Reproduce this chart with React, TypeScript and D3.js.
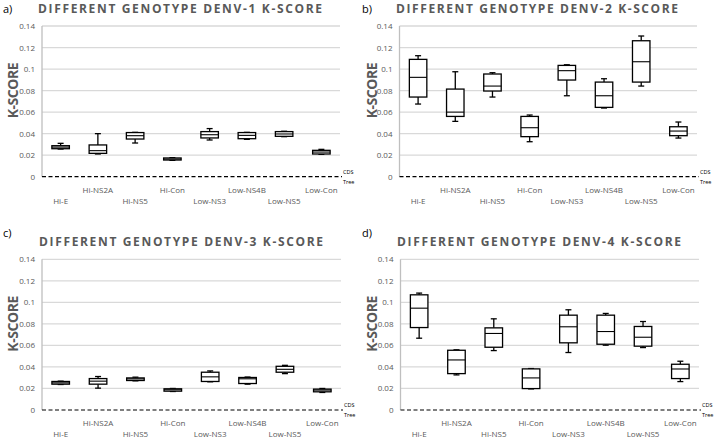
import React, { useEffect, useRef } from "react";
import * as d3 from "d3";

const categories = ["Hi-E", "Hi-NS2A", "Hi-NS5", "Hi-Con", "Low-NS3", "Low-NS4B", "Low-NS5", "Low-Con"];
const yTicks = [0, 0.02, 0.04, 0.06, 0.08, 0.1, 0.12, 0.14];
const yTickLabels = ["0", "0.02", "0.04", "0.06", "0.08", "0.1", "0.12", "0.14"];

// [min, q1, median, q3, max] per category
const denv1 = [
    [0.0257, 0.026, 0.0275, 0.0288, 0.031],
    [0.0211, 0.0217, 0.0242, 0.0295, 0.040],
    [0.0313, 0.035, 0.0381, 0.041, 0.0412],
    [0.0152, 0.0155, 0.0164, 0.0174, 0.0177],
    [0.0341, 0.036, 0.039, 0.0419, 0.0447],
    [0.0347, 0.0353, 0.0384, 0.041, 0.0412],
    [0.0372, 0.0375, 0.0397, 0.0419, 0.0422],
    [0.0208, 0.0211, 0.0229, 0.0245, 0.0254],
];
const denv2 = [
    [0.0675, 0.074, 0.0923, 0.109, 0.1124],
    [0.0514, 0.056, 0.060, 0.0814, 0.0975],
    [0.074, 0.0796, 0.0842, 0.0954, 0.0966],
    [0.0325, 0.0372, 0.0455, 0.056, 0.0573],
    [0.0752, 0.0898, 0.0985, 0.1034, 0.104],
    [0.0638, 0.0644, 0.0752, 0.0879, 0.091],
    [0.0842, 0.0879, 0.1068, 0.1263, 0.1307],
    [0.0359, 0.0381, 0.0424, 0.0464, 0.0508],
];
const denv3 = [
    [0.0237, 0.024, 0.0252, 0.0265, 0.0268],
    [0.0203, 0.024, 0.0268, 0.0292, 0.0311],
    [0.0271, 0.0274, 0.0289, 0.0298, 0.0305],
    [0.0172, 0.0175, 0.0188, 0.0197, 0.020],
    [0.0262, 0.0265, 0.0308, 0.0351, 0.0363],
    [0.024, 0.0246, 0.029, 0.0302, 0.0306],
    [0.0338, 0.0351, 0.0378, 0.0406, 0.0415],
    [0.0163, 0.0169, 0.0185, 0.0194, 0.020],
];
const denv4 = [
    [0.0667, 0.0766, 0.0946, 0.107, 0.1086],
    [0.0326, 0.0338, 0.0465, 0.0555, 0.0559],
    [0.0552, 0.0583, 0.0711, 0.0763, 0.0847],
    [0.0196, 0.0199, 0.0298, 0.0382, 0.0385],
    [0.0534, 0.0624, 0.0773, 0.0881, 0.0931],
    [0.0602, 0.0611, 0.0729, 0.0881, 0.0897],
    [0.058, 0.0593, 0.0676, 0.0776, 0.0822],
    [0.0264, 0.0292, 0.0381, 0.0425, 0.0453],
];

const panels = [
    { tag: "a)", name: "DENV-1", data: denv1, ox: 0, oy: 0, left: 42, right: 340, top: 26, bottom: 176.7, tx: 38, tw: 284, tb: 12.7, lb: 12.5 },
    { tag: "b)", name: "DENV-2", data: denv2, ox: 359, oy: 0, left: 40.5, right: 338, top: 26, bottom: 176.7, tx: 37, tw: 282, tb: 12.7, lb: 12.5 },
    { tag: "c)", name: "DENV-3", data: denv3, ox: 0, oy: 220, left: 42, right: 341, top: 39.3, bottom: 190, tx: 39, tw: 284, tb: 26, lb: 16.5 },
    { tag: "d)", name: "DENV-4", data: denv4, ox: 359, oy: 220, left: 41.5, right: 340, top: 39.3, bottom: 190, tx: 38, tw: 284, tb: 26, lb: 16.5 },
];

const grey = "#595959";
const font = "'Open Sans', sans-serif";

export default function App() {
    const svgRef = useRef<SVGSVGElement>(null);

    useEffect(() => {
        const svg = d3.select(svgRef.current);
        svg.selectAll("*").remove();

        panels.forEach(p => {
            const g = svg.append("g").attr("transform", `translate(${p.ox},${p.oy})`);
            const x = d3.scaleBand().domain(categories).range([p.left, p.right]).paddingInner(0.53).paddingOuter(0.265);
            const y = d3.scaleLinear().domain([0, 0.14]).range([p.bottom, p.top]);

            // panel tag and title
            g.append("text").attr("x", 3).attr("y", p.lb).attr("font-family", font)
                .attr("font-size", 11).attr("fill", "#000").text(p.tag);
            g.append("text").attr("x", p.tx).attr("y", p.tb).attr("font-family", font)
                .attr("font-size", 12).attr("font-weight", "bold").attr("fill", grey)
                .attr("textLength", p.tw).attr("lengthAdjust", "spacing")
                .text(`DIFFERENT GENOTYPE ${p.name} K-SCORE`);

            // y axis label
            const midY = (p.top + p.bottom) / 2 - 11;
            g.append("text").attr("transform", `translate(${17.5},${midY}) rotate(-90)`)
                .attr("text-anchor", "middle").attr("font-family", font).attr("font-size", 14)
                .attr("font-weight", "bold").attr("fill", grey)
                .attr("textLength", 56).attr("lengthAdjust", "spacing").text("K-SCORE");

            // grid
            g.selectAll(".grid").data(yTicks.slice(1)).enter().append("line")
                .attr("x1", p.left).attr("x2", p.right)
                .attr("y1", d => y(d)).attr("y2", d => y(d))
                .attr("stroke", "#d9d9d9").attr("stroke-width", 1.3);
            g.append("line").attr("x1", p.left).attr("x2", p.left).attr("y1", p.top).attr("y2", p.bottom)
                .attr("stroke", "#bfbfbf").attr("stroke-width", 1.3);

            // tick labels
            g.selectAll(".tick").data(yTicks).enter().append("text")
                .attr("x", p.left - 7).attr("y", d => y(d) + 3)
                .attr("text-anchor", "end").attr("font-family", font).attr("font-size", 8)
                .attr("fill", grey).text((d, i) => yTickLabels[i]);

            // dashed zero line
            g.append("line").attr("x1", p.left).attr("x2", p.right + 2)
                .attr("y1", y(0)).attr("y2", y(0))
                .attr("stroke", "#000").attr("stroke-width", 1.2).attr("stroke-dasharray", "4,2.5");
            g.append("text").attr("x", p.right + 3).attr("y", y(0) - 3).attr("font-family", font)
                .attr("font-size", 5.5).attr("fill", "#000").text("CDS");
            g.append("text").attr("x", p.right + 3).attr("y", y(0) + 7).attr("font-family", font)
                .attr("font-size", 5.5).attr("fill", "#000").text("Tree");

            // category labels, staggered
            g.selectAll(".cat").data(categories).enter().append("text")
                .attr("x", d => (x(d) as number) + x.bandwidth() / 2)
                .attr("y", (d, i) => y(0) + (i % 2 === 0 ? 27 : 16))
                .attr("text-anchor", "middle").attr("font-family", font).attr("font-size", 8)
                .attr("fill", grey).text(d => d);

            // boxes
            const bw = x.bandwidth();
            const boxes = g.selectAll(".box").data(p.data).enter().append("g")
                .attr("transform", (d, i) => `translate(${x(categories[i])},0)`);
            const stroke = { color: "#000", w: 1.3 };
            boxes.append("line").attr("x1", bw / 2).attr("x2", bw / 2)
                .attr("y1", d => y(d[0])).attr("y2", d => y(d[1]))
                .attr("stroke", stroke.color).attr("stroke-width", stroke.w);
            boxes.append("line").attr("x1", bw / 2).attr("x2", bw / 2)
                .attr("y1", d => y(d[3])).attr("y2", d => y(d[4]))
                .attr("stroke", stroke.color).attr("stroke-width", stroke.w);
            boxes.append("line").attr("x1", bw / 2 - 3).attr("x2", bw / 2 + 3)
                .attr("y1", d => y(d[0])).attr("y2", d => y(d[0]))
                .attr("stroke", stroke.color).attr("stroke-width", stroke.w);
            boxes.append("line").attr("x1", bw / 2 - 3).attr("x2", bw / 2 + 3)
                .attr("y1", d => y(d[4])).attr("y2", d => y(d[4]))
                .attr("stroke", stroke.color).attr("stroke-width", stroke.w);
            boxes.append("rect").attr("x", 0).attr("width", bw)
                .attr("y", d => y(d[3])).attr("height", d => y(d[1]) - y(d[3]))
                .attr("fill", "#fff").attr("stroke", stroke.color).attr("stroke-width", stroke.w);
            boxes.append("line").attr("x1", 0).attr("x2", bw)
                .attr("y1", d => y(d[2])).attr("y2", d => y(d[2]))
                .attr("stroke", stroke.color).attr("stroke-width", 1.1);
        });
    }, []);

    return (
        <svg ref={svgRef} width={719} height={440}
            style={{ position: "absolute", left: 0, top: 0, background: "#fff" }} />
    );
}
